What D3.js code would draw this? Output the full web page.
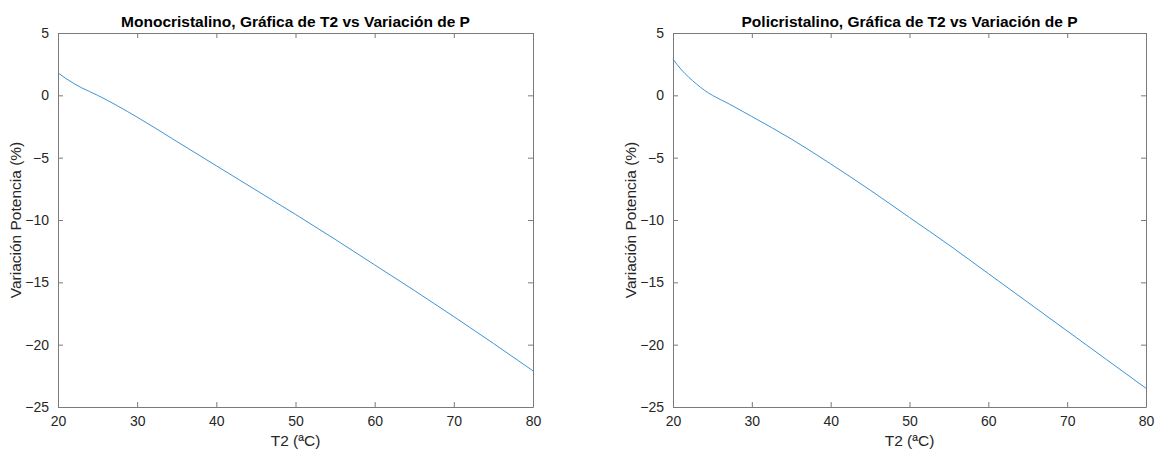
<!DOCTYPE html>
<html>
<head>
<meta charset="utf-8">
<script src="https://cdn.jsdelivr.net/npm/d3@7"></script>
<style>
  html, body { margin: 0; padding: 0; background: #fff; }
  svg { display: block; font-family: "Liberation Sans", Arial, Helvetica, sans-serif; }
</style>
</head>
<body>
<svg id="fig" width="1157" height="454"></svg>
<script>
// Temperature T2 (°C) and power variation (%) for each panel
const monoT = [20, 21, 22, 23, 24, 25, 30, 35, 40, 45, 50, 55, 60, 65, 70, 75, 80];
const monoP = [1.8, 1.35, 0.95, 0.6, 0.3, 0.0, -1.75, -3.7, -5.65, -7.6, -9.55, -11.55, -13.6, -15.65, -17.75, -19.9, -22.1];

const polyT = [20, 21, 22, 23, 24, 25, 27, 30, 35, 40, 45, 50, 55, 60, 65, 70, 75, 80];
const polyP = [2.9, 2.1, 1.45, 0.9, 0.4, 0.0, -0.65, -1.7, -3.5, -5.5, -7.6, -9.8, -12.0, -14.3, -16.6, -18.9, -21.2, -23.5];

const xTicks = [20, 30, 40, 50, 60, 70, 80];
const yTicks = [-25, -20, -15, -10, -5, 0, 5];

const titles = [
  "Monocristalino, Gráfica de T2 vs Variación de P",
  "Policristalino, Gráfica de T2 vs Variación de P"
];
const xLabel = "T2 (ªC)";
const yLabel = "Variación Potencia (%)";

const panels = [
  { title: titles[0], T: monoT, P: monoP, left: 58, right: 533 },
  { title: titles[1], T: polyT, P: polyP, left: 673, right: 1146 }
];

const plotTop = 33, plotBottom = 407;
const svg = d3.select("#fig");
const axisColor = "#7a7a7a";
const textColor = "#262626";

panels.forEach(p => {
  const x = d3.scaleLinear().domain([20, 80]).range([p.left, p.right]);
  const y = d3.scaleLinear().domain([-25, 5]).range([plotBottom, plotTop]);
  const g = svg.append("g");

  // axes: ticks point inward on all four sides
  const tickLen = 5;
  const axB = g.append("g").attr("transform", `translate(0,${plotBottom})`)
    .call(d3.axisBottom(x).tickValues(xTicks).tickSize(-tickLen).tickPadding(9).tickSizeOuter(0));
  const axT = g.append("g").attr("transform", `translate(0,${plotTop})`)
    .call(d3.axisTop(x).tickValues(xTicks).tickSize(-tickLen).tickFormat("").tickSizeOuter(0));
  const axL = g.append("g").attr("transform", `translate(${p.left},0)`)
    .call(d3.axisLeft(y).tickValues(yTicks).tickSize(-tickLen).tickPadding(9).tickSizeOuter(0));
  const axR = g.append("g").attr("transform", `translate(${p.right},0)`)
    .call(d3.axisRight(y).tickValues(yTicks).tickSize(-tickLen).tickFormat("").tickSizeOuter(0));

  [axB, axT, axL, axR].forEach(a => {
    a.selectAll(".domain").attr("stroke", axisColor).attr("stroke-width", 1);
    a.selectAll(".tick line").attr("stroke", axisColor).attr("stroke-width", 1);
    a.selectAll(".tick text").attr("fill", textColor).attr("font-size", 14)
      .attr("font-family", "Liberation Sans, Arial, sans-serif");
  });

  // curve
  const pts = p.T.map((t, i) => [t, p.P[i]]);
  g.append("path")
    .datum(pts)
    .attr("fill", "none")
    .attr("stroke", "#3d94d6")
    .attr("stroke-width", 1)
    .attr("d", d3.line().x(d => x(d[0])).y(d => y(d[1])).curve(d3.curveMonotoneX));

  const cx = (p.left + p.right) / 2;
  g.append("text")
    .attr("x", cx).attr("y", 27)
    .attr("text-anchor", "middle")
    .attr("font-size", 15.5).attr("font-weight", "bold")
    .attr("fill", "#000")
    .text(p.title);

  g.append("text")
    .attr("x", cx).attr("y", 446)
    .attr("text-anchor", "middle")
    .attr("font-size", 15.5)
    .attr("fill", textColor)
    .text(xLabel);

  g.append("text")
    .attr("transform", `translate(${p.left - 37},${(plotTop + plotBottom) / 2}) rotate(-90)`)
    .attr("text-anchor", "middle")
    .attr("font-size", 15.5)
    .attr("fill", textColor)
    .text(yLabel);
});
</script>
</body>
</html>
